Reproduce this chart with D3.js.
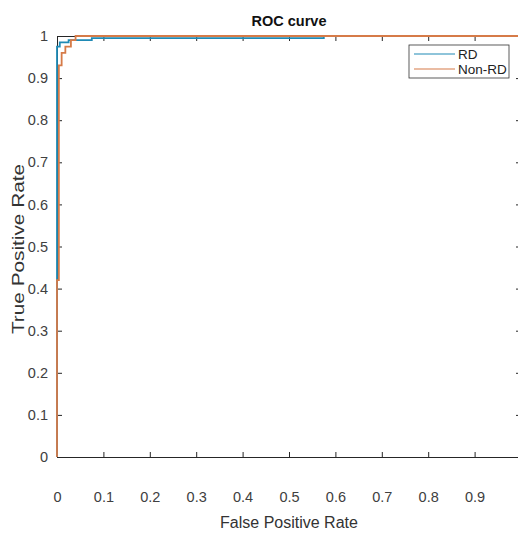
<!DOCTYPE html>
<meta charset="utf-8">
<style>
body { margin: 0; background: #fff; }
text { font-family: "Liberation Sans", Arial, sans-serif; }
</style>
<body>
<script src="https://cdn.jsdelivr.net/npm/d3@7"></script>
<script>

// ROC points (FPR, TPR)
var rdFpr    = [0, 0, 0.006, 0.006, 0.025, 0.025, 0.075, 0.075, 0.575, 0.575, 1];
var rdTpr    = [0, 0.975, 0.975, 0.985, 0.985, 0.99, 0.99, 0.995, 0.995, 1, 1];
var nonrdFpr = [0, 0, 0.004, 0.004, 0.01, 0.01, 0.018, 0.018, 0.03, 0.03, 0.04, 0.04, 1];
var nonrdTpr = [0, 0.42, 0.42, 0.93, 0.93, 0.96, 0.96, 0.975, 0.975, 0.99, 0.99, 1, 1];
var ticks = [0, 0.1, 0.2, 0.3, 0.4, 0.5, 0.6, 0.7, 0.8, 0.9];
var yticks = [0, 0.1, 0.2, 0.3, 0.4, 0.5, 0.6, 0.7, 0.8, 0.9, 1];

var margin = {top: 36, left: 57},
    width = 464,
    height = 421;

var svg = d3.select("body").append("svg")
    .attr("width", 518)
    .attr("height", 538);

var g = svg.append("g")
    .attr("transform", "translate(" + margin.left + "," + margin.top + ")");

var x = d3.scaleLinear().domain([0, 1]).range([0, width]);
var y = d3.scaleLinear().domain([0, 1]).range([height, 0]);

var line = d3.line()
    .x(function(d) { return x(d[0]); })
    .y(function(d) { return y(d[1]); });

var series = [
  {name: "RD", color: "#1f8ab5", pts: d3.zip(rdFpr, rdTpr)},
  {name: "Non-RD", color: "#d67b48", pts: d3.zip(nonrdFpr, nonrdTpr)}
];

// axes, matlab style: ticks inside, box on
var axColor = "#262626";
var xb = g.append("g").attr("transform", "translate(0," + height + ")")
    .call(d3.axisBottom(x).tickValues(ticks).tickSizeInner(-5).tickSizeOuter(0).tickPadding(35)
      .tickFormat(function(d) { return d === 0 ? "0" : d3.format(".1f")(d); }));
var yl = g.append("g")
    .call(d3.axisLeft(y).tickValues(yticks).tickSizeInner(-5).tickSizeOuter(0).tickPadding(9)
      .tickFormat(function(d) { return (d === 0 || d === 1) ? String(d) : d3.format(".1f")(d); }));
var xt = g.append("g")
    .call(d3.axisTop(x).tickValues(ticks).tickSizeInner(-5).tickSizeOuter(0).tickFormat(""));
var yr = g.append("g").attr("transform", "translate(" + width + ",0)")
    .call(d3.axisRight(y).tickValues(yticks).tickSizeInner(-5).tickSizeOuter(0).tickFormat(""));

[xb, yl, xt, yr].forEach(function(a) {
  a.select(".domain").attr("stroke", axColor);
  a.selectAll(".tick line").attr("stroke", axColor);
  a.selectAll(".tick text").attr("fill", "#404040").style("font-size", "14.5px");
});

g.selectAll(".curve")
    .data(series)
  .enter().append("path")
    .attr("class", "curve")
    .attr("fill", "none")
    .attr("stroke", function(d) { return d.color; })
    .attr("stroke-width", 1.8)
    .attr("d", function(d) { return line(d.pts); });

// titles
svg.append("text")
    .attr("x", margin.left + width / 2).attr("y", 26)
    .attr("text-anchor", "middle")
    .style("font-size", "14.5px").style("font-weight", "bold").attr("fill", "#111")
    .text("ROC curve");
svg.append("text")
    .attr("x", margin.left + width / 2).attr("y", 528)
    .attr("text-anchor", "middle")
    .style("font-size", "16px").attr("fill", "#333")
    .text("False Positive Rate");
// the picture is stretched vertically, so the rotated label runs long
svg.append("text")
    .attr("transform", "translate(24,249) rotate(-90) scale(1.3,1)")
    .attr("text-anchor", "middle")
    .style("font-size", "16px").attr("fill", "#333")
    .text("True Positive Rate");

// legend
var lg = svg.append("g").attr("transform", "translate(409,45)");
lg.append("rect").attr("width", 100).attr("height", 33)
    .attr("fill", "#fff").attr("stroke", "#333").attr("stroke-width", 0.8);
var items = lg.selectAll(".item").data(series).enter().append("g")
    .attr("transform", function(d, i) { return "translate(0," + (9 + i * 15) + ")"; });
items.append("line").attr("x1", 5).attr("x2", 46)
    .attr("stroke", function(d) { return d.color; }).attr("stroke-width", 1.2);
items.append("text").attr("x", 49).attr("y", 5)
    .style("font-size", "13.5px").attr("fill", "#222")
    .text(function(d) { return d.name; });

</script>
</body>
